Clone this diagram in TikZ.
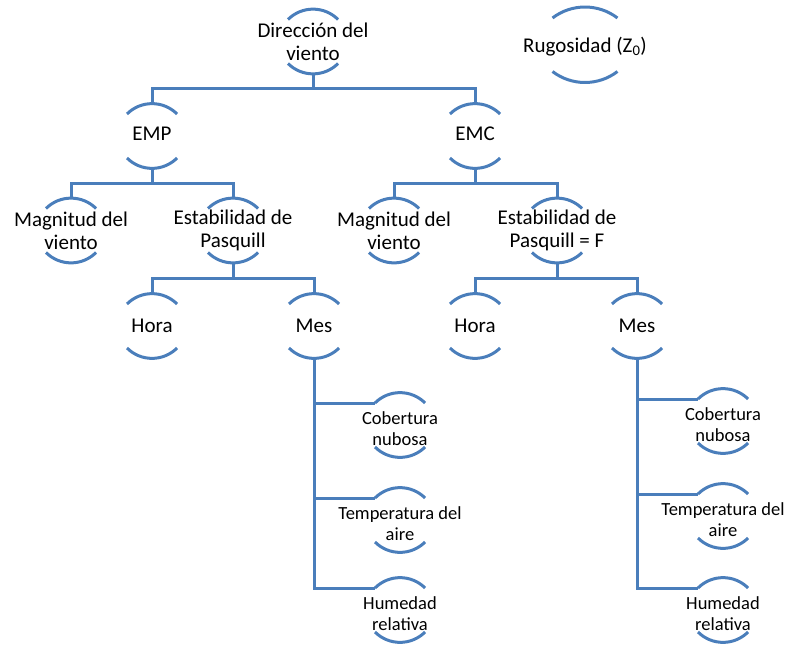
\documentclass[tikz,border=0pt]{standalone}
\usepackage{fontspec}
\setmainfont{Carlito}
\usetikzlibrary{calc}
\definecolor{lc}{HTML}{4A7EBB}
\newcommand\twoarcs[1]{%
  \draw[ln] ($(#1)+(-25,-22)$) arc[start angle=225,end angle=315,radius=35.4];
  \draw[ln] ($(#1)+(-25,22)$) arc[start angle=135,end angle=45,radius=35.4];}
\begin{document}
\begin{tikzpicture}[x=1pt,y=-1pt,
  ln/.style={draw=lc,line width=3pt},
  big/.style={align=center,font=\fontsize{21}{23}\selectfont,inner sep=0pt},
  small/.style={align=center,font=\fontsize{18.5}{21}\selectfont,inner sep=0pt}]
\useasboundingbox (0,0) rectangle (788,645);
% circle centres
\coordinate (dir) at (313,41.5);
\coordinate (rug) at (585,44.5);
\coordinate (emp) at (152,136);
\coordinate (emc) at (475,136);
\coordinate (magL) at (71,230.5);
\coordinate (estL) at (233,230.5);
\coordinate (magR) at (394,230.5);
\coordinate (estR) at (557,230.5);
\coordinate (horL) at (152,326);
\coordinate (mesL) at (314,326);
\coordinate (horR) at (475,326);
\coordinate (mesR) at (637,326);
\coordinate (cobL) at (400,425);
\coordinate (temL) at (400,520);
\coordinate (humL) at (400,610);
\coordinate (cobR) at (723,421);
\coordinate (temR) at (723,516);
\coordinate (humR) at (723,610);
% texts
\node[big] (tdir) at (dir) {Dirección del\\viento};
\node[big] (trug) at ($(rug)+(0,2)$) {Rugosidad (Z\textsubscript{0})};
\node[big] (temp) at ($(emp)+(0,-2)$) {EMP};
\node[big] (temc) at ($(emc)+(0,-2)$) {EMC};
\node[big] (tmagL) at (magL) {Magnitud del\\viento};
\node[big] (testL) at (estL) {Estabilidad de\\Pasquill};
\node[big] (tmagR) at (magR) {Magnitud del\\viento};
\node[big] (testR) at (estR) {Estabilidad de\\Pasquill = F};
\node[big] (thorL) at (horL) {Hora};
\node[big] (tmesL) at (mesL) {Mes};
\node[big] (thorR) at (horR) {Hora};
\node[big] (tmesR) at (mesR) {Mes};
\node[small] (tcobL) at ($(cobL)+(0,4)$) {Cobertura\\nubosa};
\node[small] (ttemL) at ($(temL)+(0,4)$) {Temperatura del\\aire};
\node[small] (thumL) at ($(humL)+(0,4)$) {Humedad\\relativa};
\node[small] (tcobR) at ($(cobR)+(0,4)$) {Cobertura\\nubosa};
\node[small] (ttemR) at ($(temR)+(0,4)$) {Temperatura del\\aire};
\node[small] (thumR) at ($(humR)+(0,4)$) {Humedad\\relativa};
% arcs
\foreach \n in {dir,emp,emc,magL,estL,magR,estR,horL,mesL,horR,mesR,cobL,temL,humL,cobR,temR,humR}{\twoarcs{\n}}
\draw[ln] ($(rug)+(-32.5,-26.5)$) arc[start angle=232.6,end angle=307.4,radius=53.5];
\draw[ln] ($(rug)+(-32.5,27)$) arc[start angle=127.4,end angle=52.6,radius=53.5];
% bar junctions
\coordinate (b1) at ($(dir)+(0,46.5)$);
\coordinate (b2) at ($(emp)+(0,47)$);
\coordinate (b3) at ($(estL)+(0,47.5)$);
\coordinate (b4) at ($(emc)+(0,47)$);
\coordinate (b5) at ($(estR)+(0,47.5)$);
% connectors
\draw[ln] ($(dir)+(0,32.4)$) -- (b1);
\draw[ln] ($(emp)+(0,-32.4)$) |- (b1) -| ($(emc)+(0,-32.4)$);
\draw[ln] ($(emp)+(0,32.4)$) -- (b2);
\draw[ln] ($(magL)+(0,-32.4)$) |- (b2) -| ($(estL)+(0,-32.4)$);
\draw[ln] ($(emc)+(0,32.4)$) -- (b4);
\draw[ln] ($(magR)+(0,-32.4)$) |- (b4) -| ($(estR)+(0,-32.4)$);
\draw[ln] ($(estL)+(0,32.4)$) -- (b3);
\draw[ln] ($(horL)+(0,-32.4)$) |- (b3) -| ($(mesL)+(0,-32.4)$);
\draw[ln] ($(estR)+(0,32.4)$) -- (b5);
\draw[ln] ($(horR)+(0,-32.4)$) |- (b5) -| ($(mesR)+(0,-32.4)$);
\draw[ln] ($(mesL)+(0,32.4)$) |- ($(humL)+(-25,-22)$);
\draw[ln] ($(mesL)+(0,32.4)$) |- ($(cobL)+(-25,-22)$);
\draw[ln] ($(mesL)+(0,32.4)$) |- ($(temL)+(-25,-22)$);
\draw[ln] ($(mesR)+(0,32.4)$) |- ($(humR)+(-25,-22)$);
\draw[ln] ($(mesR)+(0,32.4)$) |- ($(cobR)+(-25,-22)$);
\draw[ln] ($(mesR)+(0,32.4)$) |- ($(temR)+(-25,-22)$);
\end{tikzpicture}
\end{document}
